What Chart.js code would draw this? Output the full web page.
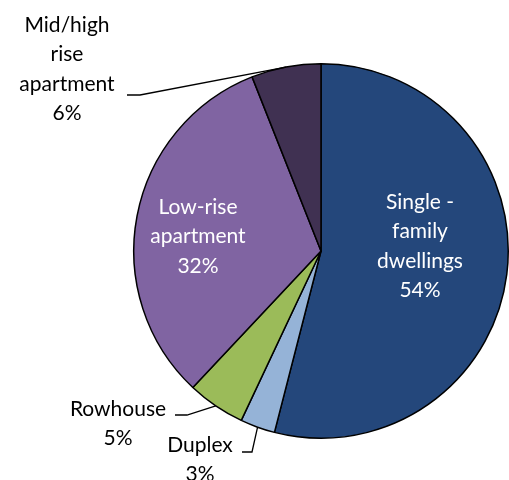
<!DOCTYPE html>
<html>
<head>
<meta charset="utf-8">
<script src="https://cdn.jsdelivr.net/npm/chart.js@4"></script>
<style>
  html, body { margin: 0; padding: 0; background: #fff; }
  #wrap { width: 509px; height: 480px; }
</style>
</head>
<body>
<div id="wrap"><canvas id="c" width="509" height="480"></canvas></div>
<script>
// Housing type shares (%), clockwise from 12 o'clock
const categories = ["Single - family dwellings", "Duplex", "Rowhouse", "Low-rise apartment", "Mid/high rise apartment"];
const shares = [54, 3, 5, 32, 6];
const colors = ["#24477b", "#95b3d7", "#9bbb59", "#8064a2", "#403152"];

// label lines per slice (text split as in the original)
const labelLines = [
  ["Single -", "family", "dwellings", "54%"],
  ["Duplex", "3%"],
  ["Rowhouse", "5%"],
  ["Low-rise", "apartment", "32%"],
  ["Mid/high", "rise", "apartment", "6%"],
];

// where each label block sits, its colour and optional leader line
const labelPlace = [
  { x: 420, y: 202, color: "#fff" },
  { x: 200, y: 445, color: "#000", leader: [[242, 452], [252, 452]] },
  { x: 118, y: 409, color: "#000", leader: [[175, 415], [187, 415]] },
  { x: 198, y: 207, color: "#fff" },
  { x: 67, y: 25, color: "#000", leader: [[127, 95], [140, 95]] },
];

const FONT = "21px Lato, 'Open Sans', sans-serif";
const LINE_H = 29.5;

const pieLabels = {
  id: "pieLabels",
  afterDatasetsDraw(chart) {
    const { ctx } = chart;
    const arcs = chart.getDatasetMeta(0).data;
    ctx.save();
    ctx.font = FONT;
    ctx.textAlign = "center";
    ctx.textBaseline = "middle";
    labelPlace.forEach((p, i) => {
      const arc = arcs[i];
      if (p.leader) {
        const mid = (arc.startAngle + arc.endAngle) / 2;
        const r = arc.outerRadius;
        const ex = arc.x + Math.cos(mid) * r;
        const ey = arc.y + Math.sin(mid) * r;
        ctx.beginPath();
        ctx.moveTo(p.leader[0][0], p.leader[0][1]);
        ctx.lineTo(p.leader[1][0], p.leader[1][1]);
        ctx.lineTo(ex, ey);
        ctx.lineWidth = 1.3;
        ctx.strokeStyle = "#000";
        ctx.stroke();
      }
      ctx.fillStyle = p.color;
      labelLines[i].forEach((t, k) => ctx.fillText(t, p.x, p.y + k * LINE_H));
    });
    ctx.restore();
  },
};

new Chart(document.getElementById("c"), {
  type: "pie",
  data: {
    labels: categories,
    datasets: [{
      data: shares,
      backgroundColor: colors,
      borderColor: "#000",
      borderWidth: 1.5,
    }],
  },
  options: {
    responsive: false,
    animation: false,
    layout: { padding: { left: 133, right: 0, top: 63, bottom: 41 } },
    plugins: { legend: { display: false }, tooltip: { enabled: false } },
  },
  plugins: [pieLabels],
});
</script>
</body>
</html>
